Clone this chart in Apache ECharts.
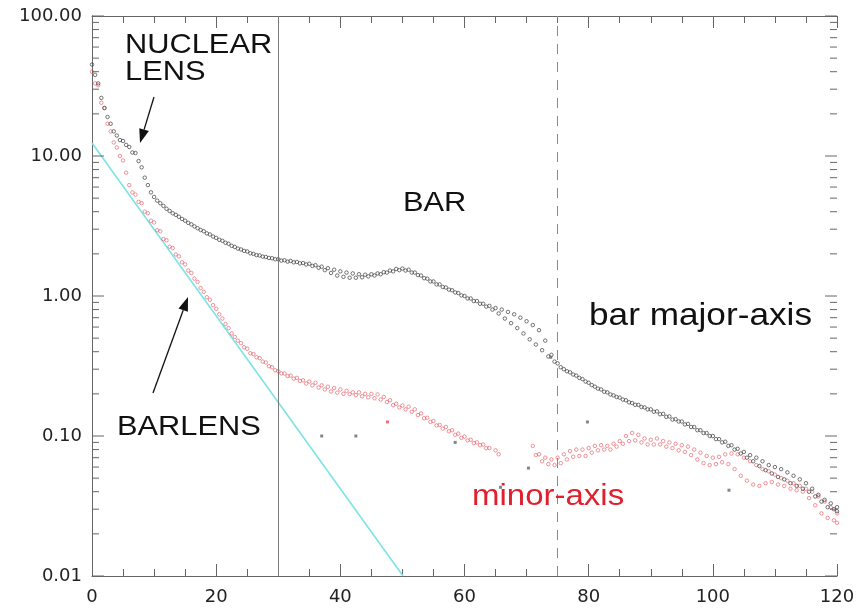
<!DOCTYPE html>
<html>
<head>
<meta charset="utf-8">
<script src="https://cdn.jsdelivr.net/npm/echarts@6/dist/echarts.min.js"></script>
<style>
  html, body { margin: 0; padding: 0; background: #fff; }
  #chart { width: 858px; height: 611px; }
</style>
</head>
<body>
<div id="chart"></div>
<script>
// radius grid for side A and side B (side B sampled half a step later)
const radius = [0,1,2,3,4,5,6,7,8,9,10,11,12,13,14,15,16,17,18,19,20,21,22,23,24,25,26,27,28,29,
  30,31,32,33,34,35,36,37,38,39,40,41,42,43,44,45,46,47,48,49,50,51,52,53,54,55,56,57,58,59,
  60,61,62,63,64,65,66,67,68,69,70,71,72,73,74,75,76,77,78,79,80,81,82,83,84,85,86,87,88,89,
  90,91,92,93,94,95,96,97,98,99,100,101,102,103,104,105,106,107,108,109,110,111,112,113,114,115,116,117,118,119,120];
const radiusB = [0.5,1.5,2.5,3.5,4.5,5.5,6.5,7.5,8.5,9.5,10.5,11.5,12.5,13.5,14.5,15.5,16.5,17.5,18.5,19.5,
  20.5,21.5,22.5,23.5,24.5,25.5,26.5,27.5,28.5,29.5,30.5,31.5,32.5,33.5,34.5,35.5,36.5,37.5,38.5,39.5,
  40.5,41.5,42.5,43.5,44.5,45.5,46.5,47.5,48.5,49.5,50.5,51.5,52.5,53.5,54.5,55.5,56.5,57.5,58.5,59.5,
  60.5,61.5,62.5,63.5,64.5,65.5,66.5,67.5,68.5,69.5,70.5,71.5,72.5,73.5,74.5,75.5,76.5,77.5,78.5,79.5,
  80.5,81.5,82.5,83.5,84.5,85.5,86.5,87.5,88.5,89.5,90.5,91.5,92.5,93.5,94.5,95.5,96.5,97.5,98.5,99.5,
  100.5,101.5,102.5,103.5,104.5,105.5,106.5,107.5,108.5,109.5,110.5,111.5,112.5,113.5,114.5,115.5,116.5,117.5,118.5,119.5,
  120];

// bar major-axis profile, two sides
const majorA = [45, 33, 22, 17, 14, 12.8, 11.6, 10.5, 8.3, 6.2,
  5.1, 4.6, 4.2, 3.9, 3.68, 3.45, 3.25, 3.05, 2.9, 2.75,
  2.6, 2.48, 2.36, 2.24, 2.15, 2.08, 2.0, 1.95, 1.9, 1.86,
  1.83, 1.8, 1.78, 1.75, 1.72, 1.7, 1.66, 1.62, 1.58, 1.54,
  1.5, 1.47, 1.45, 1.43, 1.42, 1.43, 1.45, 1.48, 1.52, 1.56,
  1.57, 1.54, 1.47, 1.4, 1.33, 1.27, 1.21, 1.15, 1.1, 1.05,
  1.0, 0.96, 0.92, 0.88, 0.85, 0.82, 0.8, 0.77, 0.74, 0.7,
  0.66, 0.62, 0.57, 0.48, 0.38, 0.33, 0.3, 0.285, 0.27, 0.255,
  0.24, 0.225, 0.215, 0.205, 0.195, 0.188, 0.18, 0.172, 0.167, 0.16,
  0.155, 0.15, 0.144, 0.138, 0.132, 0.127, 0.122, 0.116, 0.11, 0.105,
  0.1, 0.095, 0.091, 0.086, 0.081, 0.077, 0.073, 0.07, 0.066, 0.062,
  0.06, 0.058, 0.055, 0.052, 0.049, 0.046, 0.042, 0.038, 0.035, 0.033,
  0.031];
const majorB = [38, 26, 19, 15, 13, 12, 10.6, 9.2, 7.0, 5.5,
  4.8, 4.4, 4.05, 3.8, 3.55, 3.33, 3.14, 2.96, 2.8, 2.66,
  2.52, 2.4, 2.28, 2.18, 2.1, 2.02, 1.96, 1.91, 1.87, 1.83,
  1.79, 1.76, 1.74, 1.71, 1.68, 1.64, 1.59, 1.53, 1.46, 1.4,
  1.37, 1.35, 1.35, 1.36, 1.38, 1.4, 1.43, 1.47, 1.5, 1.53,
  1.52, 1.47, 1.41, 1.34, 1.27, 1.21, 1.16, 1.11, 1.06, 1.01,
  0.96, 0.92, 0.88, 0.84, 0.8, 0.75, 0.69, 0.64, 0.59, 0.54,
  0.49, 0.45, 0.41, 0.37, 0.34, 0.31, 0.29, 0.275, 0.26, 0.245,
  0.231, 0.218, 0.207, 0.198, 0.19, 0.182, 0.174, 0.167, 0.161, 0.155,
  0.149, 0.143, 0.137, 0.131, 0.127, 0.121, 0.116, 0.11, 0.105, 0.1,
  0.095, 0.09, 0.085, 0.08, 0.075, 0.07, 0.066, 0.061, 0.057, 0.054,
  0.051, 0.049, 0.046, 0.044, 0.042, 0.04, 0.037, 0.034, 0.031, 0.03,
  0.029];

// minor-axis profile, two sides (null = no point)
const minorA = [40, 32, 22, 15, 11.5, 9.3, 6.2, 5.3, 4.6, 3.9,
  3.35, 2.9, 2.5, 2.2, 1.92, 1.68, 1.46, 1.26, 1.07, 0.94,
  0.81, 0.69, 0.59, 0.51, 0.46, 0.42, 0.385, 0.36, 0.335, 0.31,
  0.29, 0.28, 0.27, 0.26, 0.25, 0.245, 0.24, 0.23, 0.225, 0.22,
  0.215, 0.21, 0.205, 0.205, 0.2, 0.2, 0.198, 0.19, 0.18, 0.17,
  0.165, 0.162, 0.155, 0.145, 0.135, 0.128, 0.12, 0.116, 0.11, 0.104,
  0.099, 0.094, 0.09, 0.087, 0.082, 0.079, null, null, null, null,
  null, 0.085, 0.074, 0.07, 0.068, 0.07, 0.074, 0.078, 0.08, 0.08,
  0.082, 0.085, 0.086, 0.085, 0.088, 0.092, 0.1, 0.105, 0.102, 0.096,
  0.094, 0.096, 0.092, 0.09, 0.088, 0.086, 0.084, 0.08, 0.076, 0.072,
  0.07, 0.071, 0.074, 0.075, 0.074, 0.07, 0.066, 0.062, 0.058, 0.056,
  0.053, 0.05, 0.048, 0.046, 0.044, 0.042, 0.04, 0.037, 0.034, 0.031,
  0.028];
const minorB = [33, 24, 17, 12.5, 10, 7.6, 5.5, 4.7, 4.0, 3.45,
  2.95, 2.55, 2.25, 1.98, 1.74, 1.52, 1.33, 1.14, 0.98, 0.86,
  0.74, 0.63, 0.54, 0.48, 0.43, 0.39, 0.365, 0.34, 0.315, 0.295,
  0.28, 0.268, 0.257, 0.247, 0.237, 0.23, 0.222, 0.215, 0.208, 0.204,
  0.2, 0.199, 0.196, 0.192, 0.189, 0.186, 0.182, 0.175, 0.166, 0.16,
  0.155, 0.149, 0.141, 0.134, 0.126, 0.119, 0.113, 0.108, 0.102, 0.097,
  0.093, 0.089, 0.086, 0.082, null, 0.074, null, null, null, null,
  null, 0.073, 0.066, 0.063, 0.062, 0.064, 0.068, 0.071, 0.072, 0.072,
  0.076, 0.079, 0.08, 0.08, 0.084, 0.088, 0.092, 0.093, 0.09, 0.087,
  0.087, 0.087, 0.084, 0.082, 0.079, 0.077, 0.073, 0.068, 0.064, 0.062,
  0.063, 0.065, 0.063, 0.058, 0.052, 0.048, 0.045, 0.044, 0.046, 0.047,
  0.045, 0.044, 0.042, 0.041, 0.04, 0.036, 0.032, 0.028, 0.026, 0.025,
  0.024];

// stray points
const strayX = [37, 42.5, 58.5, 65.8, 70.3, 73.9, 79.8, 102.6];
const strayY = [0.1, 0.1, 0.09, 0.043, 0.059, 0.365, 0.126, 0.041];
const strayRedX = [47.6];
const strayRedY = [0.126];

// exponential disk fit (straight line in log space)
const diskX = [0, 50.1];
const diskY = [12.4, 0.01];

// region borders
const lensEdge = 30;
const barEdge = 75;

const pairs = (xs, ys) => xs.map((x, i) => [x, ys[i]]).filter(p => p[1] != null);

// y ticks on both frame sides: decades long, 2..9 short
const yTicks = [];
[0.01, 0.1, 1, 10].forEach(d => {
  yTicks.push([0, d, 12]);
  for (let m = 2; m <= 9; m++) yTicks.push([0, m * d, 7]);
});
yTicks.push([0, 100, 12]);

let myChart = echarts.init(document.getElementById('chart'));

const font = '"Liberation Sans", Arial, Helvetica, sans-serif';
const axisColor = '#666';

function arrow(x1, y1, x2, y2) {
  const dx = x2 - x1, dy = y2 - y1, len = Math.hypot(dx, dy);
  const ux = dx / len, uy = dy / len, hl = 14, hw = 5;
  const bx = x2 - ux * hl, by = y2 - uy * hl;
  return [
    { type: 'line', shape: { x1: x1, y1: y1, x2: bx, y2: by }, style: { stroke: '#111', lineWidth: 1.3 }, z: 100 },
    { type: 'polygon', shape: { points: [[x2, y2], [bx - uy * hw, by + ux * hw], [bx + uy * hw, by - ux * hw]] },
      style: { fill: '#111' }, z: 100 }
  ];
}

function label(text, x, y, size, color) {
  return { type: 'text', x: x, y: y, scaleX: 1.1, z: 100,
    style: { text: text, fontSize: size, fontFamily: font, fill: color || '#111', align: 'left', verticalAlign: 'middle' } };
}

const hollow = (color, size) => ({
  type: 'scatter', symbol: 'circle', symbolSize: size, silent: true,
  itemStyle: { color: 'rgba(255,255,255,0)', borderColor: color, borderWidth: 1 }
});

let option = {
  animation: false,
  backgroundColor: '#fff',
  grid: { left: 92, right: 21, top: 16, bottom: 35 },
  xAxis: [
    {
      type: 'value', min: 0, max: 120, interval: 20,
      axisLine: { lineStyle: { color: axisColor } },
      axisTick: { inside: true, length: 12, lineStyle: { color: axisColor } },
      minorTick: { show: true, splitNumber: 4, length: 7, lineStyle: { color: axisColor } },
      axisLabel: { color: '#222', fontFamily: '"DejaVu Sans", sans-serif', fontSize: 18, margin: 12 },
      splitLine: { show: false }
    },
    {
      type: 'value', min: 0, max: 120, interval: 20, position: 'top',
      axisLine: { lineStyle: { color: axisColor } },
      axisTick: { inside: true, length: 12, lineStyle: { color: axisColor } },
      minorTick: { show: true, splitNumber: 4, length: 7, lineStyle: { color: axisColor } },
      axisLabel: { show: false },
      splitLine: { show: false }
    }
  ],
  yAxis: [
    {
      type: 'log', logBase: 10, min: 0.01, max: 100,
      axisLine: { show: true, lineStyle: { color: axisColor } },
      axisTick: { show: false },
      axisLabel: { color: '#222', fontFamily: '"DejaVu Sans", sans-serif', fontSize: 18, margin: 10,
        formatter: v => Number(v).toFixed(2) },
      splitLine: { show: false }
    },
    {
      type: 'log', logBase: 10, min: 0.01, max: 100, position: 'right',
      axisLine: { show: true, lineStyle: { color: axisColor } },
      axisTick: { show: false },
      axisLabel: { show: false },
      splitLine: { show: false }
    }
  ],
  series: [
    {
      type: 'line', data: pairs(diskX, diskY), showSymbol: false, silent: true,
      lineStyle: { color: '#7ee3e6', width: 1.6 }, z: 1,
      markLine: {
        silent: true, symbol: 'none', label: { show: false },
        data: [
          { xAxis: lensEdge, lineStyle: { color: '#7a7a7a', width: 1, type: 'solid' } },
          { xAxis: barEdge, lineStyle: { color: '#8a8a8a', width: 1, type: [10, 8] } }
        ]
      }
    },
    Object.assign(hollow('rgba(232,80,90,0.75)', 3.5), { data: pairs(radius, minorA), z: 3 }),
    Object.assign(hollow('rgba(232,80,90,0.75)', 3.5), { data: pairs(radiusB, minorB), z: 3 }),
    Object.assign(hollow('rgba(55,55,55,0.85)', 3.5), { data: pairs(radius, majorA), z: 4 }),
    Object.assign(hollow('rgba(55,55,55,0.85)', 3.5), { data: pairs(radiusB, majorB), z: 4 }),
    { type: 'scatter', symbol: 'rect', symbolSize: 3, silent: true, data: pairs(strayX, strayY),
      itemStyle: { color: '#666' }, z: 4 },
    { type: 'scatter', symbol: 'rect', symbolSize: 3, silent: true, data: pairs(strayRedX, strayRedY),
      itemStyle: { color: '#e0505a' }, z: 4 },
    {
      type: 'custom', silent: true, clip: false, z: 10, data: yTicks,
      renderItem: (params, api) => {
        const l = api.coord([0, api.value(1)]);
        const r = api.coord([120, api.value(1)]);
        const len = api.value(2);
        const st = { stroke: axisColor, lineWidth: 1 };
        return { type: 'group', children: [
          { type: 'line', shape: { x1: l[0], y1: l[1], x2: l[0] + len, y2: l[1] }, style: st },
          { type: 'line', shape: { x1: r[0], y1: r[1], x2: r[0] - len, y2: r[1] }, style: st }
        ] };
      }
    }
  ],
  graphic: [
    label('NUCLEAR', 125, 45, 28),
    label('LENS', 125, 72, 28),
    label('BAR', 403, 203, 28),
    label('bar major-axis', 589, 316, 32),
    label('BARLENS', 117, 427, 28),
    label('minor-axis', 472, 497, 30, '#e0202e')
  ].concat(arrow(154, 97, 140, 143), arrow(153, 393, 188, 297))
};

myChart.setOption(option);
window.addEventListener('resize', function () { myChart.resize(); });
</script>
</body>
</html>
